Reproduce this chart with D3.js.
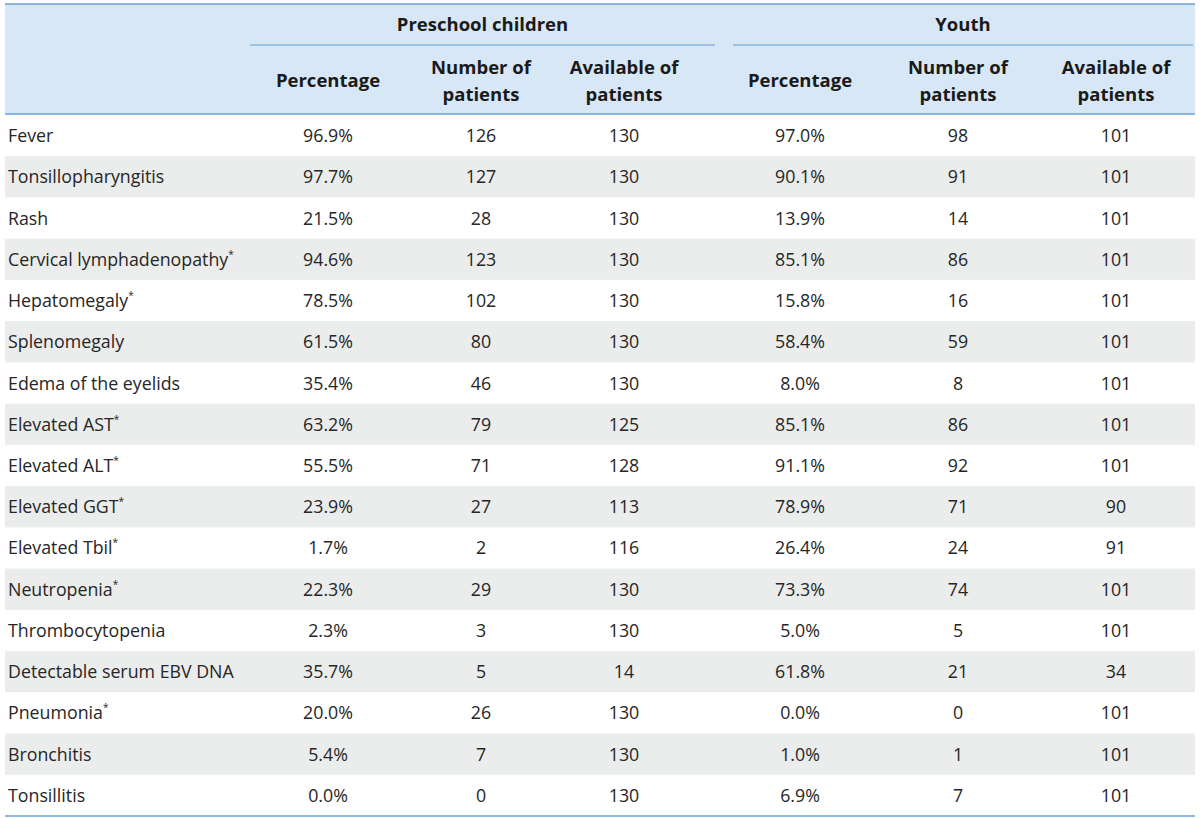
<!DOCTYPE html>
<html><head><meta charset="utf-8">
<script src="https://cdn.jsdelivr.net/npm/d3@7"></script>
<style>html,body{margin:0;padding:0;background:#fff;}</style>
</head><body>
<script>
const categories = ["Fever","Tonsillopharyngitis","Rash","Cervical lymphadenopathy","Hepatomegaly","Splenomegaly","Edema of the eyelids","Elevated AST","Elevated ALT","Elevated GGT","Elevated Tbil","Neutropenia","Thrombocytopenia","Detectable serum EBV DNA","Pneumonia","Bronchitis","Tonsillitis"];
const starred = [false,false,false,true,true,false,false,true,true,true,true,true,false,false,true,false,false];
const preschoolPct = ["96.9%","97.7%","21.5%","94.6%","78.5%","61.5%","35.4%","63.2%","55.5%","23.9%","1.7%","22.3%","2.3%","35.7%","20.0%","5.4%","0.0%"];
const preschoolNum = [126,127,28,123,102,80,46,79,71,27,2,29,3,5,26,7,0];
const preschoolAvail = [130,130,130,130,130,130,130,125,128,113,116,130,130,14,130,130,130];
const youthPct = ["97.0%","90.1%","13.9%","85.1%","15.8%","58.4%","8.0%","85.1%","91.1%","78.9%","26.4%","73.3%","5.0%","61.8%","0.0%","1.0%","6.9%"];
const youthNum = [98,91,14,86,16,59,8,86,92,71,24,74,5,21,0,1,7];
const youthAvail = [101,101,101,101,101,101,101,101,101,90,91,101,101,34,101,101,101];
const groups = ["Preschool children","Youth"];
const colHeaders = [["Percentage"],["Number of","patients"],["Available of","patients"]];

const W=1200,H=819;
const FONT="'Open Sans', 'Noto Sans', sans-serif";
const svg=d3.select("body").append("svg").attr("width",W).attr("height",H).style("font-family",FONT);

const x0=5,x1=1195,topY=4,headY=114,bottomY=816;
const y=d3.scaleBand().domain(categories).range([headY+1,bottomY]);
const colKeys=["pPct","pNum","pAv","yPct","yNum","yAv"];
const xc=d3.scaleOrdinal().domain(colKeys).range([328,481,624,800,958,1116]);
const groupSpan=d3.scaleOrdinal().domain(groups).range([[250,715],[733,1193]]);

svg.append("rect").attr("x",x0).attr("y",topY).attr("width",x1-x0).attr("height",headY-topY).attr("fill","#d7e7f6");
svg.selectAll("rect.stripe").data(categories.filter((d,i)=>i%2===1)).join("rect")
  .attr("x",x0).attr("y",d=>y(d)).attr("width",x1-x0).attr("height",y.bandwidth()).attr("fill","#ebecec");

const lineC="#6b9fd2";
[topY,headY,bottomY].forEach(v=>svg.append("line").attr("x1",x0).attr("x2",x1).attr("y1",v).attr("y2",v).attr("stroke",lineC).attr("stroke-width",1.5));
svg.selectAll("line.grp").data(groups).join("line")
  .attr("x1",d=>groupSpan(d)[0]).attr("x2",d=>groupSpan(d)[1]).attr("y1",45).attr("y2",45)
  .attr("stroke",lineC).attr("stroke-width",1.2);

svg.selectAll("text.grp").data(groups).join("text")
  .attr("x",d=>(groupSpan(d)[0]+groupSpan(d)[1])/2).attr("y",31).attr("text-anchor","middle")
  .attr("font-size",18.5).attr("font-weight","bold").attr("fill","#1a1a1a").text(d=>d);

const hdr=[];
colKeys.forEach((k,i)=>hdr.push({k,lines:colHeaders[i%3]}));
const ht=svg.selectAll("text.hdr").data(hdr).join("text")
  .attr("text-anchor","middle").attr("font-size",18.5).attr("font-weight","bold").attr("fill","#1a1a1a");
ht.each(function(d){
  const t=d3.select(this);
  if(d.lines.length===1){t.append("tspan").attr("x",xc(d.k)).attr("y",87).text(d.lines[0]);}
  else{d.lines.forEach((l,j)=>t.append("tspan").attr("x",xc(d.k)).attr("y",74+j*27).text(l));}
});

const lab=svg.selectAll("text.lab").data(categories).join("text")
  .attr("x",8).attr("y",d=>y(d)+y.bandwidth()/2+6.5).attr("font-size",17.8).attr("fill","#262626");
lab.append("tspan").text(d=>d);
lab.filter((d,i)=>starred[i]).append("tspan").attr("dy",-8).attr("font-size",10).text("*");

const cols=[["pPct",preschoolPct],["pNum",preschoolNum],["pAv",preschoolAvail],["yPct",youthPct],["yNum",youthNum],["yAv",youthAvail]];
cols.forEach(([k,arr])=>{
  svg.selectAll("text.c"+k).data(arr).join("text")
    .attr("x",xc(k)).attr("y",(d,i)=>y(categories[i])+y.bandwidth()/2+6.5)
    .attr("text-anchor","middle").attr("font-size",17.8).attr("fill","#262626").text(d=>d);
});
</script>
</body></html>
